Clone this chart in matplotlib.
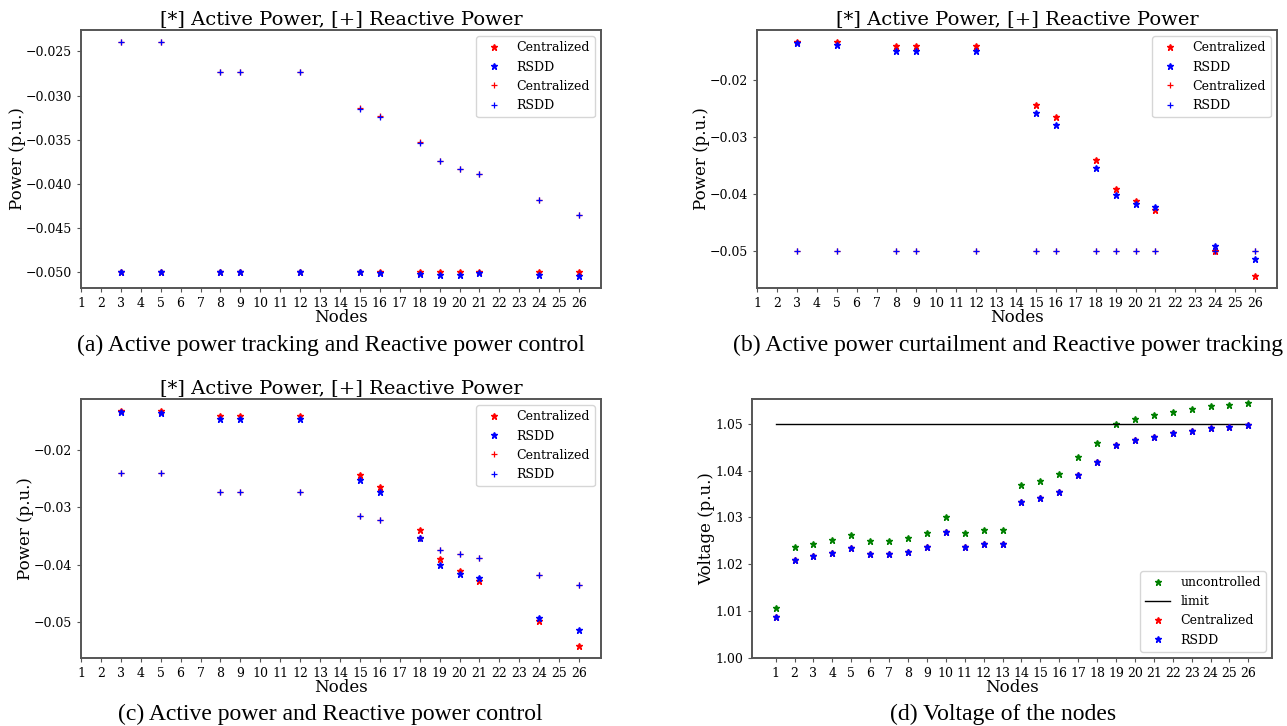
import matplotlib
matplotlib.use("Agg")
import matplotlib.pyplot as plt

plt.rcParams['font.family'] = 'DejaVu Serif'
plt.rcParams['mathtext.fontset'] = 'dejavuserif'

# nodes with DERs
der_nodes = [3, 5, 8, 9, 12, 15, 16, 18, 19, 20, 21, 24, 26]
all_nodes = list(range(1, 27))

# (a) active power tracking, reactive power control
a_p_central = [-0.0500, -0.0500, -0.0500, -0.0500, -0.0500, -0.0500, -0.0500,
               -0.0500, -0.0500, -0.0500, -0.0500, -0.0500, -0.0500]
a_p_rsdd = [-0.0500, -0.0500, -0.0500, -0.0500, -0.0500, -0.0500, -0.0501,
            -0.0502, -0.0503, -0.0503, -0.0501, -0.0504, -0.0505]
a_q_central = [-0.0239, -0.0239, -0.0273, -0.0273, -0.0273, -0.0314, -0.0323,
               -0.0353, -0.0374, -0.0383, -0.0389, -0.0418, -0.0436]
a_q_rsdd = [-0.0239, -0.0239, -0.0273, -0.0273, -0.0273, -0.0315, -0.0324,
            -0.0354, -0.0374, -0.0383, -0.0389, -0.0418, -0.0436]

# (b) active power curtailment, reactive power tracking
b_p_central = [-0.0132, -0.0132, -0.0140, -0.0140, -0.0140, -0.0243, -0.0264,
               -0.0339, -0.0391, -0.0411, -0.0428, -0.0499, -0.0544]
b_p_rsdd = [-0.0135, -0.0137, -0.0148, -0.0149, -0.0149, -0.0257, -0.0278,
            -0.0354, -0.0402, -0.0417, -0.0423, -0.0491, -0.0514]
b_q_central = [-0.0500] * 13
b_q_rsdd = [-0.0500] * 13

# (c) active and reactive power control
c_p_central = [-0.0131, -0.0131, -0.0140, -0.0140, -0.0140, -0.0243, -0.0264,
               -0.0339, -0.0390, -0.0411, -0.0428, -0.0499, -0.0543]
c_p_rsdd = [-0.0133, -0.0135, -0.0146, -0.0146, -0.0146, -0.0253, -0.0274,
            -0.0354, -0.0400, -0.0417, -0.0424, -0.0494, -0.0515]
c_q_central = [-0.0240, -0.0240, -0.0274, -0.0274, -0.0274, -0.0315, -0.0323,
               -0.0354, -0.0374, -0.0382, -0.0389, -0.0418, -0.0436]
c_q_rsdd = [-0.0240, -0.0240, -0.0274, -0.0274, -0.0274, -0.0315, -0.0323,
            -0.0354, -0.0374, -0.0382, -0.0389, -0.0418, -0.0436]

# (d) voltages
v_unctrl = [1.0106, 1.0236, 1.0244, 1.0252, 1.0262, 1.0249, 1.0249, 1.0256,
            1.0267, 1.0302, 1.0266, 1.0274, 1.0274, 1.0370, 1.0378, 1.0393,
            1.0430, 1.0460, 1.0499, 1.0511, 1.0518, 1.0526, 1.0531, 1.0538,
            1.0541, 1.0545]
v_rsdd = [1.0088, 1.0209, 1.0218, 1.0225, 1.0234, 1.0221, 1.0221, 1.0227,
          1.0238, 1.0270, 1.0236, 1.0243, 1.0243, 1.0334, 1.0341, 1.0355,
          1.0390, 1.0418, 1.0454, 1.0466, 1.0472, 1.0480, 1.0485, 1.0491,
          1.0493, 1.0497]
v_central = v_rsdd
v_limit = [1.05] * 26

W, H = 1287, 726
fig = plt.figure(figsize=(W / 100, H / 100), dpi=100)


def box(l, t, r, b):
    return [l / W, 1 - b / H, (r - l) / W, (b - t) / H]


def style(ax):
    for s in ax.spines.values():
        s.set_color('#555555')
        s.set_linewidth(1.4)
    ax.tick_params(labelsize=9, length=3, color='#555555')


def power_panel(pos, pc, pr, qc, qr):
    ax = fig.add_axes(box(*pos))
    ax.plot(der_nodes, pc, 'r*', ms=4.5, label='Centralized')
    ax.plot(der_nodes, pr, 'b*', ms=4.5, label='RSDD')
    ax.plot(der_nodes, qc, 'r+', ms=4, mew=0.9, label='Centralized')
    ax.plot(der_nodes, qr, 'b+', ms=4, mew=0.9, label='RSDD')
    ax.set_xticks(all_nodes)
    ax.set_xlim(1, 27.1)
    ax.set_title('[*] Active Power, [+] Reactive Power', fontsize=14, pad=4)
    ax.set_xlabel('Nodes', fontsize=12, labelpad=-0.5)
    ax.set_ylabel('Power (p.u.)', fontsize=12, labelpad=0)
    ax.legend(loc='upper right', fontsize=9)
    style(ax)
    return ax


power_panel((81, 30, 601, 288), a_p_central, a_p_rsdd, a_q_central, a_q_rsdd)
power_panel((757, 30, 1277, 288), b_p_central, b_p_rsdd, b_q_central, b_q_rsdd)
power_panel((81, 399, 601, 658), c_p_central, c_p_rsdd, c_q_central, c_q_rsdd)

ax = fig.add_axes(box(752, 399, 1272, 658))
ax.plot(all_nodes, v_unctrl, 'g*', ms=4.5, label='uncontrolled')
ax.plot(all_nodes, v_limit, 'k-', lw=1, label='limit')
ax.plot(all_nodes, v_central, 'r*', ms=4.5, label='Centralized')
ax.plot(all_nodes, v_rsdd, 'b*', ms=4.5, label='RSDD')
ax.set_xticks(all_nodes)
ax.set_ylim(1.0, 1.0553)
ax.set_xlabel('Nodes', fontsize=12, labelpad=-0.5)
ax.set_ylabel('Voltage (p.u.)', fontsize=12, labelpad=0)
ax.legend(loc='lower right', fontsize=9)
style(ax)

cap = dict(fontsize=17, family='Liberation Serif', ha='center', va='center')
fig.text(331 / W, 1 - 345 / H, '(a) Active power tracking and Reactive power control', **cap)
fig.text(1008 / W, 1 - 345 / H, '(b) Active power curtailment and Reactive power tracking', **cap)
fig.text(330 / W, 1 - 714 / H, '(c) Active power and Reactive power control', **cap)
fig.text(1003 / W, 1 - 714 / H, '(d) Voltage of the nodes', **cap)

plt.savefig('out.png', dpi=100)
